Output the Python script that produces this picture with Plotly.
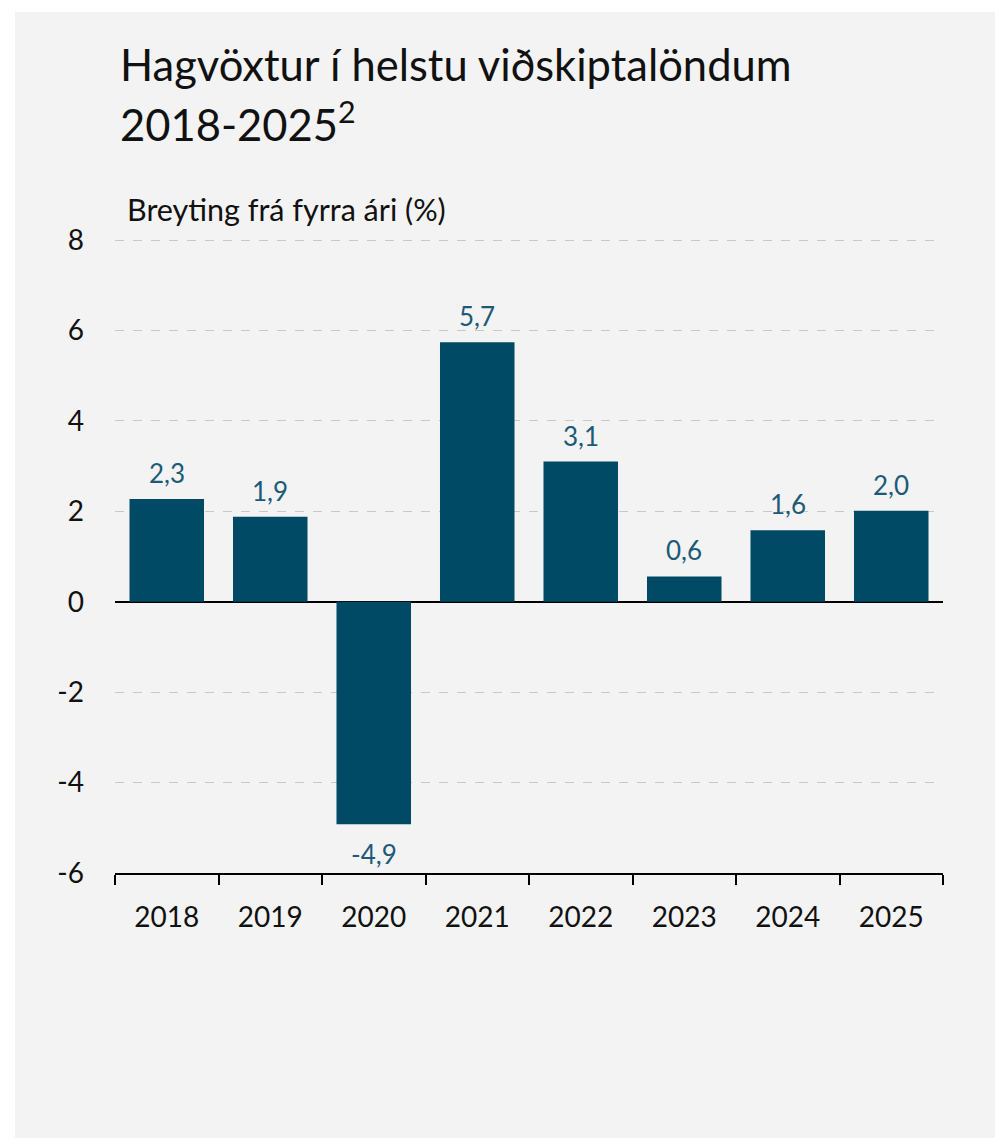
import plotly.graph_objects as go

years = ["2018", "2019", "2020", "2021", "2022", "2023", "2024", "2025"]
growth = [2.27, 1.88, -4.92, 5.74, 3.10, 0.56, 1.58, 2.01]
labels = ["2,3", "1,9", "-4,9", "5,7", "3,1", "0,6", "1,6", "2,0"]
y_ticks = [-6, -4, -2, 0, 2, 4, 6, 8]

W, H = 995, 1138
L, R, T, B = 115, 943, 236, 873
Y_TOP = 8 + 4 / ((873 - 240) / 14.0)

def px(x):
    return (x - L) / (R - L)

def py(y):
    return (B - y) / (B - T)

FONT = "Lato"
BAR = "#004a66"
LAB = "#1c5a78"

fig = go.Figure()
fig.add_trace(go.Bar(x=years, y=growth, marker=dict(color=BAR, line=dict(width=0)),
                     hoverinfo="skip"))

annotations = []
for i, (v, t) in enumerate(zip(growth, labels)):
    if v >= 0:
        annotations.append(dict(x=i, y=v, xref="x", yref="y", text=t, showarrow=False,
                                yanchor="bottom", yshift=8,
                                font=dict(family=FONT, size=26, color=LAB)))
    else:
        annotations.append(dict(x=i, y=v, xref="x", yref="y", text=t, showarrow=False,
                                yanchor="top", yshift=-12,
                                font=dict(family=FONT, size=26, color=LAB)))

annotations.append(dict(x=px(118), y=py(64), xref="paper", yref="paper",
                        text="Hagvöxtur í helstu viðskiptalöndum", showarrow=False,
                        xanchor="left", yanchor="middle",
                        font=dict(family=FONT, size=43.5, color="#111111")))
annotations.append(dict(x=px(118), y=py(122), xref="paper", yref="paper",
                        text="2018-2025<sup>2</sup>", showarrow=False,
                        xanchor="left", yanchor="middle",
                        font=dict(family=FONT, size=43.5, color="#111111")))
annotations.append(dict(x=px(125), y=py(209), xref="paper", yref="paper",
                        text="Breyting frá fyrra ári (%)", showarrow=False,
                        xanchor="left", yanchor="middle",
                        font=dict(family=FONT, size=30.5, color="#111111")))

shapes = [dict(type="rect", xref="paper", yref="paper", x0=px(15), x1=px(W + 5),
               y0=py(H + 5), y1=py(12), fillcolor="#f3f3f3", line=dict(width=0),
               layer="below")]

fig.update_layout(
    width=W, height=H,
    margin=dict(l=L, r=W - R, t=T, b=H - B, pad=0),
    paper_bgcolor="white",
    plot_bgcolor="rgba(0,0,0,0)",
    showlegend=False,
    bargap=0.28,
    annotations=annotations,
    shapes=shapes,
    xaxis=dict(type="category", range=[-0.5, len(years) - 0.5], autorange=False,
               showline=True, linecolor="black", linewidth=2,
               ticks="outside", tickson="boundaries", ticklen=10, tickwidth=2,
               tickcolor="black", showgrid=False, tickangle=0,
               tickfont=dict(family=FONT, size=28, color="#111111"),
               ticklabelstandoff=18, fixedrange=True),
    yaxis=dict(range=[-6, Y_TOP], autorange=False, tickvals=y_ticks,
               ticktext=[str(v) for v in y_ticks],
               showgrid=True, gridcolor="#c8c8c8", griddash="dash", gridwidth=1,
               zeroline=True, zerolinecolor="black", zerolinewidth=2,
               showline=False, ticks="",
               tickfont=dict(family=FONT, size=28, color="#111111"),
               ticklabelstandoff=30, fixedrange=True),
)

fig.write_html("out.html", config={"displayModeBar": False})
